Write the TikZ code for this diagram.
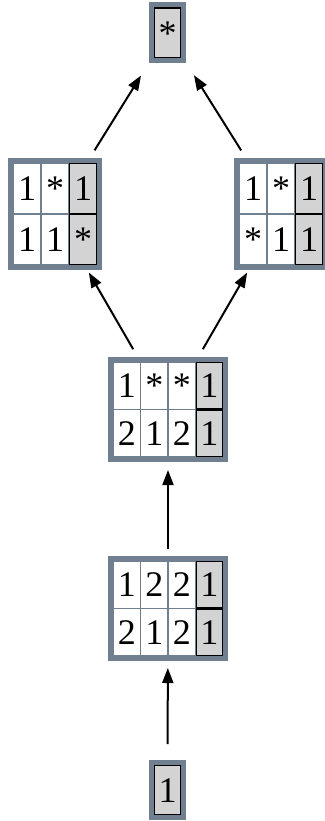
\documentclass[tikz,border=0pt]{standalone}
\usepackage{fontspec}
\setmainfont{Liberation Serif}
\usetikzlibrary{arrows.meta}
\definecolor{framec}{HTML}{708090}
\definecolor{cellg}{HTML}{D3D3D3}
\tikzset{
  frame/.style={draw=none, fill=framec, inner sep=0pt, outer sep=0pt},
  gcell/.style={fill=cellg, draw=black, line width=1.3pt},
  lab/.style={font=\fontsize{36}{36}\selectfont, text height=24.3pt, text depth=0pt, inner sep=0pt},
  arr/.style={-{Triangle[length=15pt,width=11pt]}, line width=2pt},
}
% #1 name, #2 cx, #3 cy, #4 cols, #5 rows, #6 cell width, #7 cell height, #8 contents
\newcommand\mkgrid[8]{%
  \node[frame, minimum width={#4*#6+10}, minimum height={#5*#7+10}] (#1) at (#2,#3) {};
  \foreach \rowlist [count=\r] in {#8} {
    \foreach \val [count=\k] in \rowlist {
      \pgfmathsetmacro\xa{#2-(#4*#6)/2+(\k-1)*#6}
      \pgfmathsetmacro\ya{#3-(#5*#7)/2+(\r-1)*#7}
      \ifnum\k=#4\relax
        \filldraw[gcell] (\xa+0.65,\ya+0.65) rectangle (\xa+#6-0.65,\ya+#7-0.65);
      \else
        \fill[white] (\xa+0.8,\ya+0.8) rectangle (\xa+#6-0.8,\ya+#7-0.8);
      \fi
      \node[lab] (#1-\r-\k) at (\xa+#6/2,\ya+#7/2) {\val};
    }
  }
}
\begin{document}
\begin{tikzpicture}[x=1pt,y=-1pt]
\useasboundingbox (0,0) rectangle (324,821);
\mkgrid{top}{167.5}{33}{1}{1}{27}{51}{{*}}
\mkgrid{left}{55}{214}{3}{2}{28}{51}{{1,*,1},{1,1,*}}
\mkgrid{right}{281}{214}{3}{2}{28}{51}{{1,*,1},{*,1,1}}
\mkgrid{mid}{168}{409.5}{4}{2}{27.5}{47.5}{{1,*,*,1},{2,1,2,1}}
\mkgrid{low}{168}{608.5}{4}{2}{27.5}{47.5}{{1,2,2,1},{2,1,2,1}}
\mkgrid{bot}{167.5}{790}{1}{1}{27}{50}{{1}}
\draw[arr, shorten <=9pt, shorten >=15pt] (left) -- (top);
\draw[arr, shorten <=9pt, shorten >=15pt] (right) -- (top);
\draw[arr, shorten <=9pt, shorten >=3pt] (mid) -- (left);
\draw[arr, shorten <=9pt, shorten >=3pt] (mid) -- (right);
\draw[arr, shorten <=7pt, shorten >=8pt] (low) -- (mid);
\draw[arr, shorten <=16pt, shorten >=7pt] (bot) -- (low);
\end{tikzpicture}
\end{document}
